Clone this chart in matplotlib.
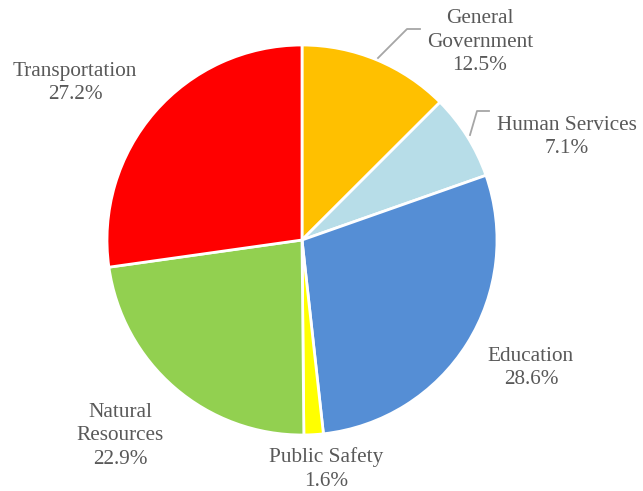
import matplotlib
matplotlib.use("Agg")
import matplotlib.pyplot as plt
import numpy as np

# data
categories = ["General\nGovernment", "Human Services", "Education",
              "Public Safety", "Natural\nResources", "Transportation"]
shares = [12.5, 7.1, 28.6, 1.6, 22.9, 27.2]
colors = ["#FFC000", "#B7DDE8", "#558ED5", "#FFFF00", "#92D050", "#FF0000"]

# label centres (data units, pie radius = 1)
label_pos = [(0.913, 1.015), (1.36, 0.528), (1.174, -0.656),
             (0.123, -1.175), (-0.933, -1.005), (-1.164, 0.805)]

plt.rcParams['font.family'] = ['Liberation Serif', 'DejaVu Serif']

fig = plt.figure(figsize=(6.43, 4.91), dpi=100)
W, H = 643, 491
cx, cy, r = 302, 240, 195
ax = fig.add_axes([(cx - r) / W, (H - cy - r) / H, 2 * r / W, 2 * r / H])

wedges, _ = ax.pie(shares, colors=colors, startangle=90, counterclock=False,
                   radius=1, wedgeprops=dict(edgecolor="white", linewidth=2))

for name, val, (x, y) in zip(categories, shares, label_pos):
    ax.text(x, y, f"{name}\n{val}%", ha="center", va="center",
            fontsize=15.3, color="#595959", linespacing=1.3)

# leader lines for the two small top-right labels
def px(p):
    return ((p[0] - cx) / r, (cy - p[1]) / r)

for pts in [[(378, 58), (407, 29), (420, 29)],
            [(470, 135), (477, 111), (489, 111)]]:
    xy = np.array([px(p) for p in pts])
    ax.plot(xy[:, 0], xy[:, 1], color="#A6A6A6", linewidth=1.3, clip_on=False)

ax.set_xlim(-1, 1)
ax.set_ylim(-1, 1)
ax.set_aspect("equal")
ax.axis("off")

fig.savefig("out.png", dpi=100)
